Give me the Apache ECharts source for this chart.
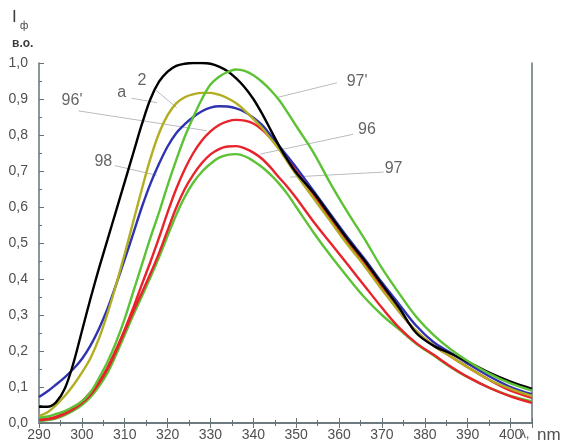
<!DOCTYPE html>
<html>
<head>
<meta charset="utf-8">
<script src="https://cdn.jsdelivr.net/npm/echarts@6/dist/echarts.min.js"></script>
<style>
  html, body { margin: 0; padding: 0; background: #fff; }
  #chart { width: 568px; height: 442px; }
</style>
</head>
<body>
<div id="chart"></div>
<script>
// wavelength grid, nm
const wavelengths = [290, 292, 294, 296, 298, 300, 302, 304, 306, 308, 310, 312, 314, 316, 318, 320,
  322, 324, 326, 328, 330, 332, 334, 336, 338, 340, 342, 344, 346, 348, 350,
  354, 358, 362, 366, 370, 374, 378, 382, 386, 390, 395, 400, 405];

// curve "2" (black)
const curve2 = [0.045, 0.045, 0.058, 0.095, 0.165, 0.255, 0.345, 0.43, 0.51, 0.59, 0.67, 0.75, 0.83, 0.9, 0.948, 0.976,
  0.992, 0.998, 1.0, 1.0, 0.998, 0.99, 0.977, 0.957, 0.932, 0.9, 0.86, 0.815, 0.77, 0.73, 0.695,
  0.64, 0.575, 0.51, 0.45, 0.385, 0.32, 0.25, 0.215, 0.193, 0.17, 0.14, 0.115, 0.095];
// curve "a" (olive)
const curveA = [0.02, 0.03, 0.05, 0.075, 0.105, 0.14, 0.18, 0.235, 0.305, 0.385, 0.47, 0.56, 0.65, 0.735, 0.805, 0.855,
  0.888, 0.905, 0.913, 0.917, 0.917, 0.912, 0.902, 0.888, 0.868, 0.845, 0.82, 0.79, 0.76, 0.725, 0.69,
  0.625, 0.56, 0.495, 0.435, 0.37, 0.31, 0.255, 0.215, 0.185, 0.155, 0.12, 0.095, 0.075];
// curve 96' (blue)
const curve96p = [0.072, 0.088, 0.107, 0.127, 0.15, 0.178, 0.215, 0.262, 0.318, 0.385, 0.455, 0.527, 0.6, 0.665, 0.72, 0.768,
  0.805, 0.83, 0.85, 0.866, 0.876, 0.88, 0.879, 0.874, 0.864, 0.848, 0.828, 0.8, 0.77, 0.74, 0.71,
  0.645, 0.58, 0.515, 0.455, 0.39, 0.33, 0.27, 0.225, 0.195, 0.165, 0.13, 0.1, 0.08];
// curve 97' (green, top)
const curve97p = [0.015, 0.018, 0.025, 0.033, 0.045, 0.06, 0.085, 0.125, 0.17, 0.225, 0.29, 0.365, 0.44, 0.515, 0.585, 0.66,
  0.73, 0.795, 0.85, 0.9, 0.94, 0.962, 0.975, 0.982, 0.978, 0.966, 0.948, 0.925, 0.897, 0.862, 0.825,
  0.752, 0.665, 0.585, 0.51, 0.43, 0.36, 0.295, 0.245, 0.205, 0.172, 0.137, 0.11, 0.09];
// red, upper
const curveRedUp = [0.01, 0.012, 0.018, 0.028, 0.042, 0.06, 0.085, 0.115, 0.155, 0.205, 0.26, 0.32, 0.385, 0.448, 0.515, 0.585,
  0.65, 0.705, 0.75, 0.785, 0.81, 0.828, 0.838, 0.842, 0.84, 0.832, 0.815, 0.792, 0.765, 0.735, 0.7,
  0.635, 0.565, 0.5, 0.44, 0.375, 0.31, 0.255, 0.215, 0.185, 0.155, 0.12, 0.09, 0.07];
// curve 96 (red, lower)
const curve96 = [0.008, 0.01, 0.015, 0.025, 0.038, 0.055, 0.078, 0.11, 0.15, 0.2, 0.255, 0.31, 0.362, 0.415, 0.472, 0.535,
  0.598, 0.65, 0.69, 0.722, 0.746, 0.761, 0.768, 0.769, 0.763, 0.751, 0.734, 0.71, 0.682, 0.655, 0.625,
  0.56, 0.5, 0.44, 0.38, 0.32, 0.265, 0.222, 0.19, 0.157, 0.128, 0.098, 0.074, 0.056];
// curve 97 (green, lower)
const curve97 = [0.005, 0.008, 0.013, 0.022, 0.034, 0.05, 0.072, 0.102, 0.14, 0.19, 0.245, 0.3, 0.352, 0.405, 0.46, 0.52,
  0.578, 0.628, 0.668, 0.698, 0.72, 0.737, 0.745, 0.747, 0.741, 0.728, 0.711, 0.69, 0.665, 0.635, 0.6,
  0.53, 0.465, 0.405, 0.348, 0.3, 0.26, 0.22, 0.188, 0.155, 0.127, 0.098, 0.075, 0.06];

// curve labels: text, [nm, I]
const labelNames = ['2', 'a', "96'", '98', "97'", '96', '97'];
const labelPos = [[314.0, 0.95], [309.3, 0.917], [297.7, 0.895], [305.0, 0.727], [364.2, 0.949], [366.5, 0.816], [372.7, 0.706]];
// leader lines: start and end, [nm, I]
const leaderFrom = [[317.1, 0.926], [311.6, 0.902], [299.2, 0.867], [307.7, 0.715], [359.5, 0.945], [363.3, 0.802], [370.4, 0.697]];
const leaderTo = [[322.1, 0.876], [317.5, 0.89], [329.1, 0.812], [317.5, 0.688], [345.5, 0.904], [341.6, 0.747], [348.6, 0.683]];

const chart = echarts.init(document.getElementById('chart'));

const font = 'Liberation Sans, Arial, sans-serif';
const axisColor = '#65737a';

function curve(ys, color) {
  return {
    type: 'line',
    data: wavelengths.map((x, i) => [x, ys[i]]),
    showSymbol: false,
    smooth: 0.35,
    lineStyle: { color: color, width: 2.4 },
    z: 3
  };
}

const leaders = leaderFrom.map((p, i) => ({
  type: 'line',
  data: [p, leaderTo[i]],
  showSymbol: false,
  silent: true,
  lineStyle: { color: '#b8bcbe', width: 1 },
  z: 2
}));

const option = {
  animation: false,
  grid: { left: 39, right: 36, top: 63, bottom: 16 },
  xAxis: [{
    type: 'value', min: 290, max: 405, interval: 10,
    axisLine: { lineStyle: { color: axisColor, width: 1.5 } },
    axisTick: { inside: true, length: 5, lineStyle: { color: axisColor } },
    minorTick: { show: true, splitNumber: 2, length: 3, lineStyle: { color: axisColor } },
    splitLine: { show: false },
    axisLabel: {
      margin: 5, color: '#505050', fontSize: 14, fontFamily: font,
      formatter: v => (v > 400 ? '' : v)
    }
  }, {
    type: 'value', position: 'top', min: 290, max: 405, interval: 10,
    axisLine: { lineStyle: { color: axisColor, width: 1.5 } },
    axisTick: { inside: true, length: 5, lineStyle: { color: axisColor } },
    minorTick: { show: true, splitNumber: 2, length: 3, lineStyle: { color: axisColor } },
    splitLine: { show: false },
    axisLabel: { show: false }
  }],
  yAxis: [{
    type: 'value', min: 0, max: 1, interval: 0.1,
    axisLine: { show: true, lineStyle: { color: axisColor, width: 1.5 } },
    axisTick: { show: true, inside: true, length: 5, lineStyle: { color: axisColor } },
    minorTick: { show: true, splitNumber: 2, length: 3, lineStyle: { color: axisColor } },
    splitLine: { show: false },
    axisLabel: {
      margin: 11, color: '#505050', fontSize: 14, fontFamily: font,
      formatter: v => v.toFixed(1).replace('.', ',')
    }
  }, {
    type: 'value', position: 'right', min: 0, max: 1,
    axisLine: { show: true, lineStyle: { color: axisColor, width: 1.5 } },
    axisTick: { show: false },
    splitLine: { show: false },
    axisLabel: { show: false }
  }],
  series: [
    curve(curve97, '#5cc236'),
    curve(curve96, '#e8232b'),
    curve(curveRedUp, '#e8232b'),
    curve(curve96p, '#2f33b0'),
    curve(curveA, '#b3ad22'),
    curve(curve2, '#000000'),
    curve(curve97p, '#5cc236'),
    ...leaders,
    {
      type: 'scatter',
      data: labelPos.map((p, i) => ({ value: p, name: labelNames[i] })),
      symbolSize: 1,
      silent: true,
      itemStyle: { color: 'rgba(0,0,0,0)' },
      label: {
        show: true, position: 'inside', formatter: '{b}',
        color: '#3c3c3c', fontSize: 16, fontFamily: font
      },
      z: 4
    }
  ],
  graphic: [
    { type: 'text', left: 12, top: 9, style: { text: 'I', fontSize: 17, fontFamily: font, fill: '#3c3c3c' } },
    { type: 'text', left: 20, top: 21, style: { text: 'ф', fontSize: 10, fontFamily: font, fill: '#3c3c3c' } },
    { type: 'text', left: 12, top: 38, style: { text: 'в.о.', fontSize: 12, fontWeight: 'bold', fontFamily: font, fill: '#3c3c3c' } },
    { type: 'text', left: 520, top: 429, style: { text: 'λ,', fontSize: 12, fontFamily: font, fill: '#505050' } },
    { type: 'text', left: 537, top: 427, style: { text: 'nm', fontSize: 17, fontFamily: font, fill: '#505050' } }
  ]
};

chart.setOption(option);
</script>
</body>
</html>
